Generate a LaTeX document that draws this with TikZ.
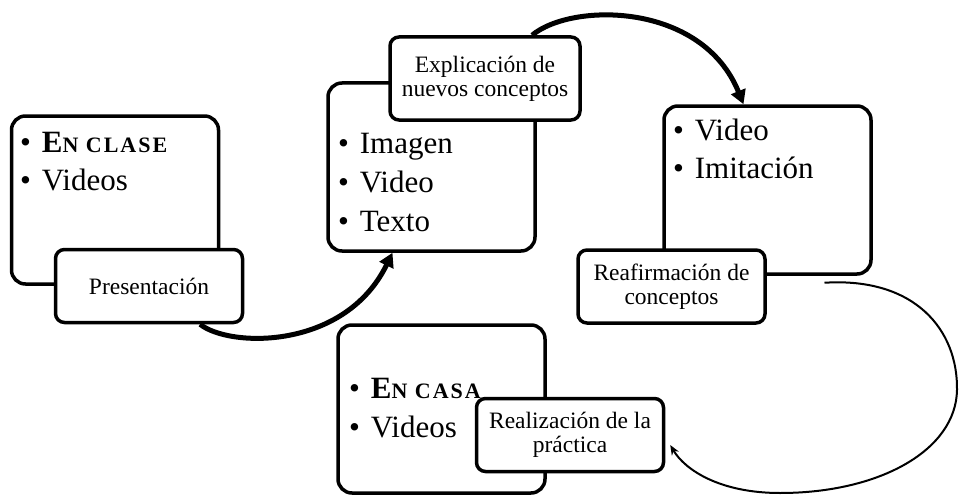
\documentclass[tikz,border=0pt]{standalone}
\usepackage{fontspec}
\setmainfont{Liberation Serif}
\usetikzlibrary{arrows.meta}
\newcommand{\bigtxt}{\fontsize{31}{38}\selectfont}
\newcommand{\smalltxt}{\fontsize{23.5}{24}\selectfont}
\newcommand{\capsword}[2]{\textbf{#1{\fontsize{22}{22}\selectfont\addfontfeatures{LetterSpace=9}#2}}}
\begin{document}
\begin{tikzpicture}[
    x=1pt, y=-1pt,
    bigbox/.style={draw, line width=3.5pt, rounded corners=14pt, fill=white,
                   minimum width=207pt, minimum height=168pt, inner sep=0pt},
    smallbox/.style={draw, line width=3.5pt, rounded corners=9pt, fill=white,
                     minimum width=187pt, minimum height=73pt, inner sep=2pt,
                     font=\smalltxt, align=center},
    item/.style={anchor=base west, inner sep=0pt, font=\bigtxt},
    flow/.style={line width=5pt, -{Triangle[length=14pt,width=15pt]}},
    back/.style={line width=2pt, -{Stealth[length=10pt,width=8pt]}}
  ]
  \useasboundingbox (0,0) rectangle (959,495);
  % big boxes
  \node[bigbox] (clase) at (115,200) {};
  \node[bigbox] (medios) at (431.5,167) {};
  \node[bigbox] (imita) at (767.5,190) {};
  \node[bigbox] (casa) at (441.5,409) {};
  % bullet lists
  \node[item] (clase1) at (20,152) {\textbullet\hspace{.35em}\capsword{E}{N CLASE}};
  \node[item] (clase2) at (20,190) {\textbullet\hspace{.35em}Videos};
  \foreach \t [count=\i] in {Imagen,Video,Texto} {
    \pgfmathsetmacro{\yy}{114+\i*39}
    \node[item] (medios\i) at (338,\yy) {\textbullet\hspace{.35em}\t};
  }
  \node[item] (imita1) at (673,140) {\textbullet\hspace{.35em}Video};
  \node[item] (imita2) at (673,178) {\textbullet\hspace{.35em}Imitación};
  \node[item] (casa1) at (349,398) {\textbullet\hspace{.35em}\capsword{E}{N CASA}};
  \node[item] (casa2) at (349,437) {\textbullet\hspace{.35em}Videos};
  % step labels
  \node[smallbox] (present) at (149,286) {Presentación};
  \node[smallbox, minimum width=190pt, minimum height=83pt] (explic) at (485,78.5)
    {Explicación de\\nuevos conceptos};
  \node[smallbox] (reafirm) at (671.5,286.5) {Reafirmación de\\conceptos};
  \node[smallbox] (realiz) at (570,435) {Realización de la\\práctica};
  % connectors
  \draw[flow] ([xshift=51pt]present.south) .. controls (230,348) and (345,350)
    .. ([xshift=-39pt]medios.south);
  \draw[flow] ([xshift=47pt]explic.north) .. controls (572,2) and (702,2)
    .. ([xshift=-24pt]imita.north);
  \draw[back] ([shift={(57pt,-7pt)}]imita.south) .. controls (915,277) and (958,330)
    .. (957,390) .. controls (956,450) and (880,493) .. (780,493)
    .. controls (720,493) and (685,470) .. ([shift={(5pt,-10pt)}]realiz.east);
\end{tikzpicture}
\end{document}
